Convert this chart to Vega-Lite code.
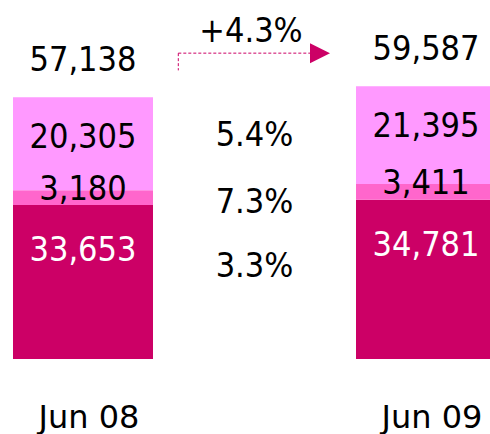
{
  "$schema": "https://vega.github.io/schema/vega-lite/v6.json",
  "width": 490,
  "height": 359,
  "autosize": {"type": "none"},
  "padding": {"left": 0, "top": 0, "right": 0, "bottom": 75},
  "background": "white",
  "config": {
    "view": {"stroke": null},
    "font": "DejaVu Sans Condensed, Roboto, sans-serif",
    "text": {"fontSize": 34, "baseline": "middle", "align": "center"}
  },
  "data": {
    "values": [
      {"period": "Jun 08", "segment": "A", "value": 33653, "growth": "3.3%"},
      {"period": "Jun 08", "segment": "B", "value": 3180, "growth": "7.3%"},
      {"period": "Jun 08", "segment": "C", "value": 20305, "growth": "5.4%"},
      {"period": "Jun 09", "segment": "A", "value": 34781, "growth": "3.3%"},
      {"period": "Jun 09", "segment": "B", "value": 3411, "growth": "7.3%"},
      {"period": "Jun 09", "segment": "C", "value": 21395, "growth": "5.4%"}
    ]
  },
  "encoding": {
    "x": {
      "field": "period",
      "type": "nominal",
      "title": null,
      "scale": {"domain": ["Jun 08", "mid", "Jun 09"], "range": [0, 509], "paddingInner": 0.1837, "paddingOuter": 0.0758},
      "axis": {
        "values": ["Jun 08", "Jun 09"],
        "domain": false,
        "ticks": false,
        "grid": false,
        "labelAngle": 0,
        "labelPadding": 68,
        "labelBaseline": "alphabetic",
        "labelFont": "DejaVu Sans",
        "labelFontSize": 32,
        "labelColor": "#000000",
        "labelOffset": 6,
        "title": null
      }
    }
  },
  "layer": [
    {
      "mark": {"type": "bar"},
      "encoding": {
        "y": {"field": "value", "type": "quantitative", "stack": "zero", "scale": {"domain": [0, 78400], "nice": false, "zero": true}, "axis": null},
        "color": {"field": "segment", "type": "nominal", "scale": {"domain": ["A", "B", "C"], "range": ["#CC0066", "#FF66CC", "#FF99FF"]}, "legend": null},
        "order": {"field": "segment", "sort": "ascending"}
      }
    },
    {
      "transform": [
        {"window": [{"op": "sum", "field": "value", "as": "top"}], "groupby": ["period"], "sort": [{"field": "segment", "order": "ascending"}], "frame": [null, 0]},
        {"filter": "datum.segment === 'A'"}
      ],
      "mark": {"type": "text", "dy": 46.5, "color": "#FFFFFF"},
      "encoding": {
        "y": {"field": "top", "type": "quantitative"},
        "text": {"field": "value", "type": "quantitative", "format": ","}
      }
    },
    {
      "transform": [
        {"window": [{"op": "sum", "field": "value", "as": "top"}], "groupby": ["period"], "sort": [{"field": "segment", "order": "ascending"}], "frame": [null, 0]},
        {"filter": "datum.segment === 'B'"}
      ],
      "mark": {"type": "text", "dy": 0, "color": "#000000"},
      "encoding": {
        "y": {"field": "top", "type": "quantitative"},
        "text": {"field": "value", "type": "quantitative", "format": ","}
      }
    },
    {
      "transform": [
        {"window": [{"op": "sum", "field": "value", "as": "top"}], "groupby": ["period"], "sort": [{"field": "segment", "order": "ascending"}], "frame": [null, 0]},
        {"filter": "datum.segment === 'C'"}
      ],
      "mark": {"type": "text", "dy": 40.5, "color": "#000000"},
      "encoding": {
        "y": {"field": "top", "type": "quantitative"},
        "text": {"field": "value", "type": "quantitative", "format": ","}
      }
    },
    {
      "transform": [
        {"window": [{"op": "sum", "field": "value", "as": "top"}], "groupby": ["period"], "sort": [{"field": "segment", "order": "ascending"}], "frame": [null, 0]},
        {"filter": "datum.segment === 'A' && datum.period === 'Jun 08'"}
      ],
      "mark": {"type": "text", "dy": 62, "color": "#000000"},
      "encoding": {
        "x": {"datum": "mid", "type": "nominal"},
        "y": {"field": "top", "type": "quantitative"},
        "text": {"field": "growth", "type": "nominal"}
      }
    },
    {
      "transform": [
        {"window": [{"op": "sum", "field": "value", "as": "top"}], "groupby": ["period"], "sort": [{"field": "segment", "order": "ascending"}], "frame": [null, 0]},
        {"filter": "datum.segment === 'B' && datum.period === 'Jun 08'"}
      ],
      "mark": {"type": "text", "dy": 12.7, "color": "#000000"},
      "encoding": {
        "x": {"datum": "mid", "type": "nominal"},
        "y": {"field": "top", "type": "quantitative"},
        "text": {"field": "growth", "type": "nominal"}
      }
    },
    {
      "transform": [
        {"window": [{"op": "sum", "field": "value", "as": "top"}], "groupby": ["period"], "sort": [{"field": "segment", "order": "ascending"}], "frame": [null, 0]},
        {"filter": "datum.segment === 'C' && datum.period === 'Jun 08'"}
      ],
      "mark": {"type": "text", "dy": 38.3, "color": "#000000"},
      "encoding": {
        "x": {"datum": "mid", "type": "nominal"},
        "y": {"field": "top", "type": "quantitative"},
        "text": {"field": "growth", "type": "nominal"}
      }
    },
    {
      "transform": [
        {"aggregate": [{"op": "sum", "field": "value", "as": "total"}], "groupby": ["period"]}
      ],
      "mark": {"type": "text", "dy": -36.5, "color": "#000000"},
      "encoding": {
        "y": {"field": "total", "type": "quantitative"},
        "text": {"field": "total", "type": "quantitative", "format": ","}
      }
    },
    {
      "transform": [
        {"aggregate": [{"op": "sum", "field": "value", "as": "total"}], "groupby": ["period"]},
        {"pivot": "period", "value": "total"}
      ],
      "mark": {"type": "rule", "color": "#CC0066", "strokeWidth": 1, "strokeDash": [3, 2], "xOffset": 95.3, "x2Offset": -116, "yOffset": -33},
      "encoding": {
        "x": {"datum": "Jun 08", "type": "nominal"},
        "x2": {"datum": "Jun 09"},
        "y": {"field": "Jun 09", "type": "quantitative"}
      }
    },
    {
      "transform": [
        {"aggregate": [{"op": "sum", "field": "value", "as": "total"}], "groupby": ["period"]},
        {"pivot": "period", "value": "total"}
      ],
      "mark": {"type": "rule", "color": "#CC0066", "strokeWidth": 1, "strokeDash": [3, 2], "xOffset": 95.3, "yOffset": -33, "y2Offset": -27},
      "encoding": {
        "x": {"datum": "Jun 08", "type": "nominal"},
        "y": {"field": "Jun 09", "type": "quantitative"},
        "y2": {"field": "Jun 08"}
      }
    },
    {
      "transform": [
        {"aggregate": [{"op": "sum", "field": "value", "as": "total"}], "groupby": ["period"]},
        {"pivot": "period", "value": "total"}
      ],
      "mark": {"type": "point", "shape": "M-1,-1L1,0L-1,1Z", "size": 400, "filled": true, "color": "#CC0066", "opacity": 1, "strokeWidth": 0, "xOffset": -106, "yOffset": -33},
      "encoding": {
        "x": {"datum": "Jun 09", "type": "nominal"},
        "y": {"field": "Jun 09", "type": "quantitative"}
      }
    },
    {
      "transform": [
        {"aggregate": [{"op": "sum", "field": "value", "as": "total"}], "groupby": ["period"]},
        {"pivot": "period", "value": "total"}
      ],
      "mark": {"type": "text", "text": "+4.3%", "dy": -54, "dx": -3.5, "color": "#000000"},
      "encoding": {
        "x": {"datum": "mid", "type": "nominal"},
        "y": {"field": "Jun 09", "type": "quantitative"}
      }
    }
  ]
}
